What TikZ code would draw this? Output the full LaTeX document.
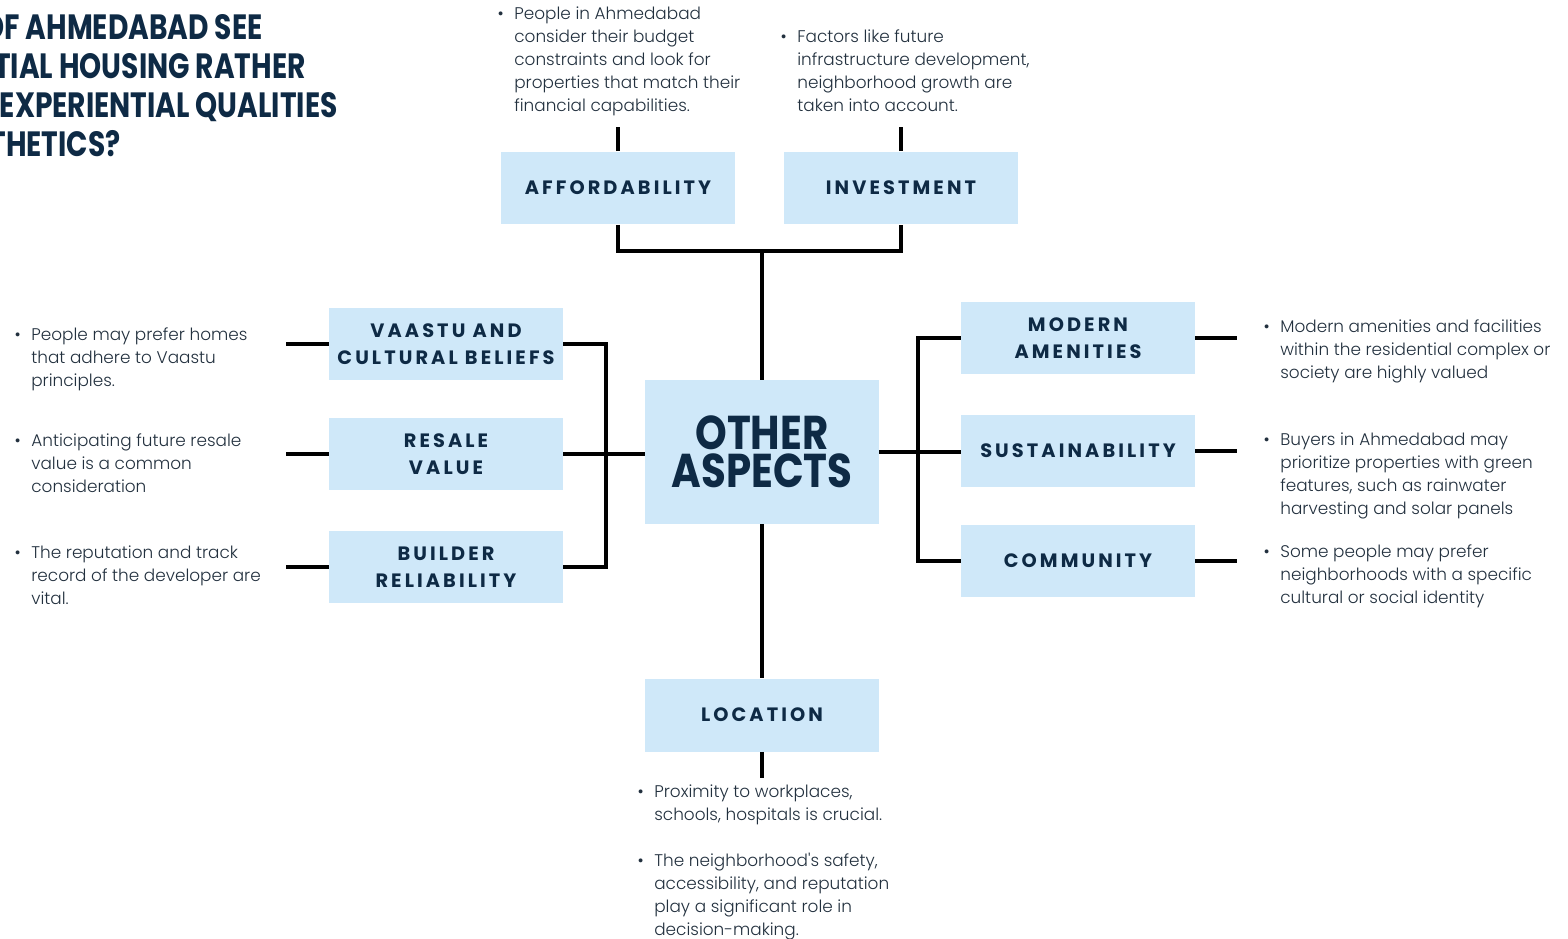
\documentclass[tikz,border=0pt]{standalone}
\usepackage{fontspec}
\setmainfont{Poppins}
\newfontfamily\headfont[FakeStretch=0.8]{Poppins}
\newfontfamily\bigfont[FakeStretch=0.85]{Poppins}
\newfontfamily\labelfont[LetterSpace=16]{Poppins}
\newfontfamily\notefont{Poppins Light}
\usetikzlibrary{positioning}

\definecolor{boxblue}{HTML}{CFE8F9}
\definecolor{navy}{HTML}{0E2A45}
\definecolor{notegray}{HTML}{22303E}

\tikzset{
  aspect/.style={fill=boxblue, minimum width=4.68cm, minimum height=1.46cm,
    inner sep=0pt, align=center, text=navy,
    font=\labelfont\bfseries\fontsize{11}{15.4}\selectfont},
  bignode/.style={aspect, minimum height=2.88cm,
    font=\bigfont\bfseries\fontsize{27}{21.5}\selectfont},
  note/.style={anchor=north west, inner sep=0pt, align=left, text=notegray,
    font=\notefont\fontsize{9.6}{13.1}\selectfont},
  heading/.style={anchor=base east, inner sep=0pt, text=navy,
    font=\headfont\bfseries\fontsize{20}{22}\selectfont},
  link/.style={line width=2.2pt, black}
}
\newcommand{\bul}{\llap{\textbullet\hspace{6pt}}}

\begin{document}
\begin{tikzpicture}[x=0.02cm, y=-0.02cm]
  \useasboundingbox (0,0) rectangle (1568,939);

  % title, cut at the left edge
  \node[heading] (head1) at (263,40) {OF AHMEDABAD SEE};
  \node[heading] (head2) at (306,79) {TIAL HOUSING RATHER};
  \node[heading] (head3) at (338,118) {EXPERIENTIAL QUALITIES};
  \node[heading] (head4) at (121,157) {THETICS?};

  % boxes
  \node[bignode] (aspects) at (762,452) {OTHER\\ASPECTS};
  \node[aspect] (afford) at (618,188) {AFFORDABILITY};
  \node[aspect] (invest) at (901,188) {INVESTMENT};
  \node[aspect] (vaastu) at (446,344) {VAASTU AND\\CULTURAL BELIEFS};
  \node[aspect] (resale) at (446,454) {RESALE\\VALUE};
  \node[aspect] (builder) at (446,567) {BUILDER\\RELIABILITY};
  \node[aspect] (modern) at (1078,338) {MODERN\\AMENITIES};
  \node[aspect] (sustain) at (1078,451) {SUSTAINABILITY};
  \node[aspect] (community) at (1078,561) {COMMUNITY};
  \node[aspect] (location) at (762,715) {LOCATION};

  % notes
  \node[note] (affnote) at (514,6) {\bul People in Ahmedabad\\consider their budget\\constraints and look for\\properties that match their\\financial capabilities.};
  \node[note] (invnote) at (797,29) {\bul Factors like future\\infrastructure development,\\neighborhood growth are\\taken into account.};
  \node[note] (vaastunote) at (31,327) {\bul People may prefer homes\\that adhere to Vaastu\\principles.};
  \node[note] (resalenote) at (31,433) {\bul Anticipating future resale\\value is a common\\consideration};
  \node[note] (buildernote) at (31,545) {\bul The reputation and track\\record of the developer are\\vital.};
  \node[note] (modernnote) at (1280,319) {\bul Modern amenities and facilities\\within the residential complex or\\society are highly valued};
  \node[note] (sustainnote) at (1280,432) {\bul Buyers in Ahmedabad may\\prioritize properties with green\\features, such as rainwater\\harvesting and solar panels};
  \node[note] (communitynote) at (1280,544) {\bul Some people may prefer\\neighborhoods with a specific\\cultural or social identity};
  \node[note] (locnote) at (654,784) {\bul Proximity to workplaces,\\schools, hospitals is crucial.\\[13.1pt]\bul The neighborhood's safety,\\accessibility, and reputation\\play a significant role in\\decision-making.};

  % top branch
  \coordinate (topjoin) at (762,251);
  \draw[link] (afford.south) |- (topjoin) -| (invest.south);
  \draw[link] (aspects.north) -- (topjoin);
  \draw[link] (afford.north) -- ++(0,-24);
  \draw[link] (invest.north) -- ++(0,-24);

  % left branch
  \draw[link] (vaastu.east) -- ++(43,0) |- (builder.east);
  \draw[link] (resale.east) -- (resale.east -| aspects.west);
  \draw[link] (vaastu.west) -- ++(-43,0);
  \draw[link] (resale.west) -- ++(-43,0);
  \draw[link] (builder.west) -- ++(-43,0);

  % right branch
  \draw[link] (modern.west) -- ++(-43,0) |- (community.west);
  \draw[link] (aspects.east) -- (aspects.east -| sustain.west);
  \draw[link] (modern.east) -- ++(42,0);
  \draw[link] (sustain.east) -- ++(42,0);
  \draw[link] (community.east) -- ++(42,0);

  % bottom branch
  \draw[link] (aspects.south) -- (location.north);
  \draw[link] (location.south) -- ++(0,26);
\end{tikzpicture}
\end{document}
